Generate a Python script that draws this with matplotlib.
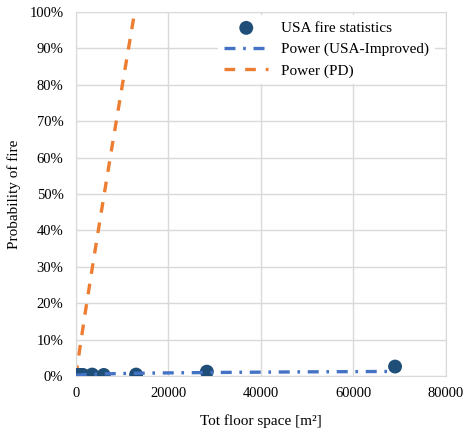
import matplotlib
matplotlib.use("Agg")
import matplotlib.pyplot as plt
import numpy as np
from matplotlib.ticker import FuncFormatter, MultipleLocator

# USA fire statistics (floor space m2, probability of fire)
floor_space = [150, 400, 700, 1000, 1500, 3500, 6000, 13000, 28300, 69000]
prob_fire = [0.003, 0.003, 0.003, 0.003, 0.003, 0.004, 0.003, 0.004, 0.012, 0.026]

# Power trendline coefficients  y = a * x^b
usa_a, usa_b = 0.0004, 0.31
pd_a, pd_b = 1.3e-4, 0.947
pd_xmax = 12500

plt.rcParams['font.family'] = ['Liberation Serif', 'DejaVu Serif']

fig = plt.figure(figsize=(4.65, 4.29), dpi=100)
ax = fig.add_axes([0.1634, 0.1235, 0.7956, 0.8485])

xl = np.linspace(1, max(floor_space), 400)
xp = np.linspace(0, pd_xmax, 200)

ax.scatter(floor_space, prob_fire, s=100, color='#1F4E79', zorder=3,
           label='USA fire statistics', edgecolors='none')
ax.plot(xl, usa_a * xl ** usa_b, color='#4472C4', lw=2.4,
        dashes=(3.3, 2.3, 0.8, 2.3), label='Power (USA-Improved)', zorder=4)
ax.plot(xp, pd_a * xp ** pd_b, color='#ED7D31', lw=2.4,
        dashes=(3.2, 3.0), label='Power (PD)', zorder=2)

ax.set_xlim(0, 80000)
ax.set_ylim(0, 1.0)
ax.xaxis.set_major_locator(MultipleLocator(20000))
ax.yaxis.set_major_locator(MultipleLocator(0.1))
ax.yaxis.set_major_formatter(FuncFormatter(lambda v, p: f"{v*100:.0f}%"))
ax.grid(True, color='#D9D9D9', lw=1)
ax.set_axisbelow(True)
for s in ax.spines.values():
    s.set_color('#D9D9D9')
ax.tick_params(axis='y', length=0, labelsize=10.5, pad=9)
ax.tick_params(axis='x', length=0, labelsize=10.5, pad=8)
ax.set_xlabel('Tot floor space [m²]', fontsize=11, labelpad=10)
ax.set_ylabel('Probability of fire', fontsize=11, labelpad=6)

leg = ax.legend(loc='upper right', bbox_to_anchor=(0.978, 1.0), fontsize=11,
                frameon=True, framealpha=1, edgecolor='none', fancybox=False,
                handlelength=2.9, handletextpad=0.8, borderaxespad=0.2,
                labelspacing=0.5)

fig.savefig('out.png', dpi=100)
